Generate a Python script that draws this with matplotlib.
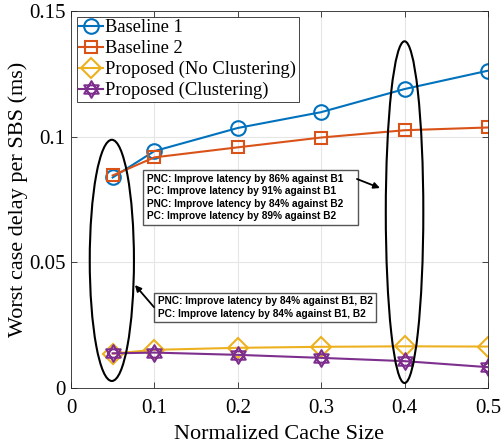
import matplotlib
matplotlib.use("Agg")
import matplotlib.pyplot as plt
from matplotlib.patches import Ellipse
from matplotlib.path import Path
import numpy as np

cache_size = [0.05, 0.1, 0.2, 0.3, 0.4, 0.5]
baseline1 = [0.0838, 0.0943, 0.1035, 0.1098, 0.1190, 0.1263]
baseline2 = [0.0846, 0.0918, 0.0958, 0.0997, 0.1026, 0.1037]
proposed_nc = [0.0137, 0.0152, 0.0160, 0.0164, 0.0166, 0.0165]
proposed_c = [0.0138, 0.0141, 0.0132, 0.0120, 0.0107, 0.0083]
labels = ["Baseline 1", "Baseline 2", "Proposed (No Clustering)", "Proposed (Clustering)"]
xticks = [0, 0.1, 0.2, 0.3, 0.4, 0.5]
yticks = [0, 0.05, 0.1, 0.15]

box1_lines = ["PNC: Improve latency by 86% against B1",
              "PC: Improve latency by 91% against B1",
              "PNC: Improve latency by 84% against B2",
              "PC: Improve latency by 89% against B2"]
box2_lines = ["PNC: Improve latency by 84% against B1, B2",
              "PC: Improve latency by 84% against B1, B2"]

# hexagram marker (two overlapping triangles)
ang_up = np.deg2rad([90, 210, 330])
ang_dn = np.deg2rad([270, 30, 150])
verts = []
codes = []
for angs in (ang_up, ang_dn):
    pts = [(np.cos(a), np.sin(a)) for a in angs]
    verts += pts + [pts[0]]
    codes += [Path.MOVETO, Path.LINETO, Path.LINETO, Path.CLOSEPOLY]
hexagram = Path(verts, codes)

plt.rcParams['font.family'] = ['Liberation Serif', 'DejaVu Serif']

fig = plt.figure(figsize=(5.02, 4.46), dpi=100)
ax = fig.add_axes([0.1414, 0.130, 0.8306, 0.845])

colors = ['#0072BD', '#D95319', '#EDB120', '#7E2F8E']
ax.plot(cache_size, baseline1, color=colors[0], lw=1.5, marker='o', ms=10.5,
        mfc='none', mew=1.5, label=labels[0])
ax.plot(cache_size, baseline2, color=colors[1], lw=1.5, marker='s', ms=9,
        mfc='none', mew=1.5, label=labels[1])
ax.plot(cache_size, proposed_nc, color=colors[2], lw=1.5, marker='D', ms=10,
        mfc='none', mew=1.5, label=labels[2])
ax.plot(cache_size, proposed_c, color=colors[3], lw=1.5, marker=hexagram, ms=12,
        mfc='none', mew=1.5, label=labels[3])

ax.set_xlim(0, 0.5)
ax.set_ylim(0, 0.15)
ax.set_xticks(xticks)
ax.set_xticklabels(['0', '0.1', '0.2', '0.3', '0.4', '0.5'])
ax.set_yticks(yticks)
ax.set_yticklabels(['0', '0.05', '0.1', '0.15'])
ax.tick_params(direction='in', labelsize=15, length=4, width=0.6, colors='#262626',
               top=True, right=True)
ax.tick_params(axis='x', pad=8)
ax.tick_params(axis='y', pad=4)
for lab in ax.get_xticklabels() + ax.get_yticklabels():
    lab.set_color('black')
ax.grid(True, color='#e6e6e6', lw=0.8)
ax.set_axisbelow(True)
for s in ax.spines.values():
    s.set_color('#262626')
    s.set_linewidth(0.6)

ax.set_xlabel('Normalized Cache Size', fontsize=16, labelpad=5)
ax.set_ylabel('Worst case delay per SBS (ms)', fontsize=16, labelpad=1)

leg = ax.legend(loc='upper left', fontsize=13.3, handlelength=1.3, handletextpad=0.1,
                borderpad=0.15, labelspacing=0.2, borderaxespad=0.3, fancybox=False,
                framealpha=1, edgecolor='#262626')
leg.get_frame().set_linewidth(0.6)

# ellipses
ax.add_patch(Ellipse((0.049, 0.0508), 0.053, 0.0960, fill=False, ec='black', lw=1.5, zorder=5))
ax.add_patch(Ellipse((0.4, 0.0700), 0.045, 0.136, fill=False, ec='black', lw=1.5, zorder=5))

bbox = dict(boxstyle='square,pad=0.35', fc='white', ec='#555555', lw=1.0)
txt_kw = dict(fontsize=7.3, fontweight='bold', family=['Liberation Sans', 'DejaVu Sans'],
              linespacing=1.3, va='center', ha='left', bbox=bbox, zorder=6)
box1_text = "\n".join([box1_lines[0] + "\u00a0\u00a0\u00a0\u00a0"] + box1_lines[1:])
box2_text = "\n".join(box2_lines)
ax.text(0.0911, 0.0758, box1_text, **txt_kw)
ax.text(0.1043, 0.0320, box2_text, **txt_kw)

arrow_kw = dict(arrowstyle='-|>', color='black', lw=1.3, shrinkA=0, shrinkB=0,
                mutation_scale=9)
ax.annotate('', xy=(0.3705, 0.0796), xytext=(0.3429, 0.0832), arrowprops=arrow_kw, zorder=7)
ax.annotate('', xy=(0.0767, 0.0410), xytext=(0.0995, 0.0322), arrowprops=arrow_kw, zorder=7)

fig.savefig('out.png', dpi=100)
